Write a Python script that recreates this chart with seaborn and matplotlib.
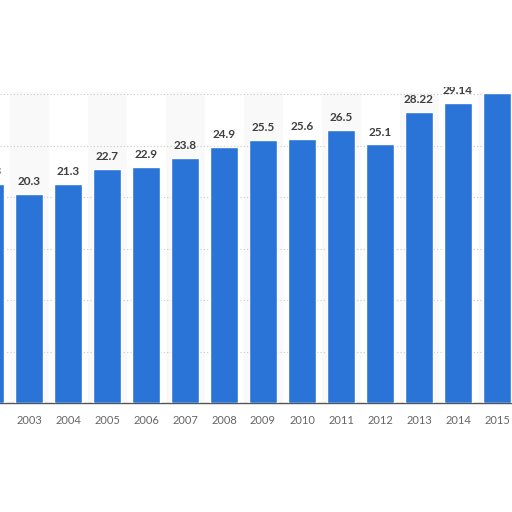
import matplotlib
matplotlib.use("Agg")
import matplotlib.pyplot as plt
import matplotlib.transforms as mtransforms
import seaborn as sns
import pandas as pd

years = ["2002", "2003", "2004", "2005", "2006", "2007", "2008", "2009",
         "2010", "2011", "2012", "2013", "2014", "2015"]
values = [21.3, 20.3, 21.3, 22.7, 22.9, 23.8, 24.9, 25.5,
          25.6, 26.5, 25.1, 28.22, 29.14, 30.1]
labels = ["21.3", "20.3", "21.3", "22.7", "22.9", "23.8", "24.9", "25.5",
          "25.6", "26.5", "25.1", "28.22", "29.14", "30.1"]

df = pd.DataFrame({"year": years, "value": values})

sns.set_theme(style="white")
plt.rcParams["font.family"] = ["Lato", "DejaVu Sans"]

fig = plt.figure(figsize=(5.12, 5.12), dpi=100)
ax = fig.add_axes([0.0, 1 - 403 / 512, 1.0, (403 - 92) / 512])

sns.barplot(data=df, x="year", y="value", order=years, color="#2a74d8",
            saturation=1, width=0.7, ax=ax, zorder=3)

# alternating faint bands
for i, y in enumerate(years):
    if i % 2 == 1:
        ax.axvspan(i - 0.5, i + 0.5, color="#f9f9f9", zorder=0, lw=0)

ax.set_xlim(10 / 39, 522 / 39)
ax.set_ylim(0, (403 - 92) / 10.3)
ax.set_yticks([5, 10, 15, 20, 25, 30])
ax.yaxis.grid(True, color="#c8c8c8", linestyle=(0, (1, 2)), linewidth=0.8, zorder=1)
ax.set_axisbelow(True)
ax.tick_params(axis="y", left=False, labelleft=False)
ax.tick_params(axis="x", bottom=False, pad=2.5, labelsize=8, labelcolor="#666666")
ax.set_xlabel("")
ax.set_ylabel("")
for s in ["top", "right", "left"]:
    ax.spines[s].set_visible(False)
ax.spines["bottom"].set_color("#555555")
ax.spines["bottom"].set_linewidth(1.0)

# visible window of the (cropped) chart, in display pixels
clip = mtransforms.TransformedBbox(
    mtransforms.Bbox.from_extents(0, 0, 512, 512 - 86.5), mtransforms.IdentityTransform())
trans = mtransforms.offset_copy(ax.transData, fig=fig, x=0, y=5, units="points")
for i, (v, t) in enumerate(zip(values, labels)):
    txt = ax.text(i, v, t, transform=trans, ha="center", va="bottom", fontsize=8.5,
                  fontweight="bold", color="#3f3f3f", zorder=4, clip_on=True)
    txt.set_clip_box(clip)

fig.savefig("out.png", dpi=100)
